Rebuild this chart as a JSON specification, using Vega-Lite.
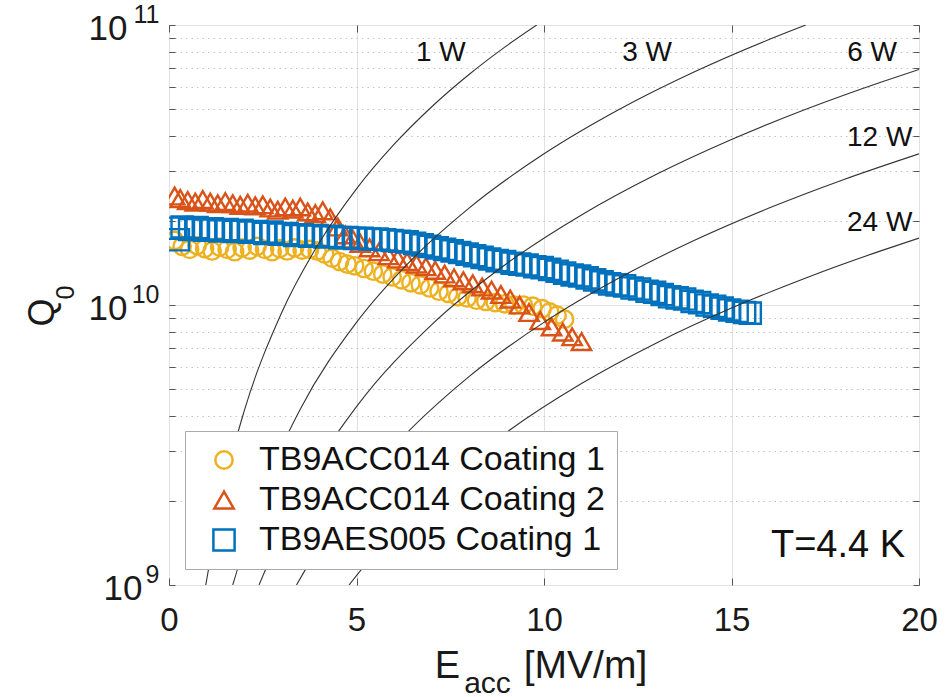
{
  "$schema": "https://vega.github.io/schema/vega-lite/v6.json",
  "width": 750,
  "height": 560,
  "autosize": {"type": "none"},
  "padding": {"left": 169, "top": 25, "right": 33, "bottom": 112},
  "background": "white",
  "config": {
    "font": "Liberation Sans",
    "view": {"stroke": "#a8a8a8", "strokeWidth": 1},
    "axis": {"labelFont": "Liberation Sans", "titleFont": "Liberation Sans", "labelColor": "#1a1a1a", "titleColor": "#1a1a1a", "titleFontWeight": "normal"}
  },
  "resolve": {"axis": {"x": "independent", "y": "independent"}},
  "layer": [
    {
      "data": {"values": [
        {"s": "TB9ACC014 Coating 1", "E": 0.15, "Q": 1.70e10},
        {"s": "TB9ACC014 Coating 1", "E": 0.35, "Q": 1.62e10},
        {"s": "TB9ACC014 Coating 1", "E": 0.55, "Q": 1.58e10},
        {"s": "TB9ACC014 Coating 1", "E": 0.75, "Q": 1.63e10},
        {"s": "TB9ACC014 Coating 1", "E": 0.95, "Q": 1.59e10},
        {"s": "TB9ACC014 Coating 1", "E": 1.15, "Q": 1.56e10},
        {"s": "TB9ACC014 Coating 1", "E": 1.35, "Q": 1.61e10},
        {"s": "TB9ACC014 Coating 1", "E": 1.55, "Q": 1.58e10},
        {"s": "TB9ACC014 Coating 1", "E": 1.75, "Q": 1.55e10},
        {"s": "TB9ACC014 Coating 1", "E": 1.95, "Q": 1.60e10},
        {"s": "TB9ACC014 Coating 1", "E": 2.15, "Q": 1.57e10},
        {"s": "TB9ACC014 Coating 1", "E": 2.35, "Q": 1.62e10},
        {"s": "TB9ACC014 Coating 1", "E": 2.55, "Q": 1.58e10},
        {"s": "TB9ACC014 Coating 1", "E": 2.75, "Q": 1.55e10},
        {"s": "TB9ACC014 Coating 1", "E": 2.95, "Q": 1.59e10},
        {"s": "TB9ACC014 Coating 1", "E": 3.15, "Q": 1.56e10},
        {"s": "TB9ACC014 Coating 1", "E": 3.35, "Q": 1.60e10},
        {"s": "TB9ACC014 Coating 1", "E": 3.55, "Q": 1.57e10},
        {"s": "TB9ACC014 Coating 1", "E": 3.75, "Q": 1.58e10},
        {"s": "TB9ACC014 Coating 1", "E": 3.95, "Q": 1.56e10},
        {"s": "TB9ACC014 Coating 1", "E": 4.15, "Q": 1.52e10},
        {"s": "TB9ACC014 Coating 1", "E": 4.35, "Q": 1.47e10},
        {"s": "TB9ACC014 Coating 1", "E": 4.55, "Q": 1.43e10},
        {"s": "TB9ACC014 Coating 1", "E": 4.75, "Q": 1.40e10},
        {"s": "TB9ACC014 Coating 1", "E": 4.95, "Q": 1.38e10},
        {"s": "TB9ACC014 Coating 1", "E": 5.2, "Q": 1.35e10},
        {"s": "TB9ACC014 Coating 1", "E": 5.45, "Q": 1.32e10},
        {"s": "TB9ACC014 Coating 1", "E": 5.7, "Q": 1.29e10},
        {"s": "TB9ACC014 Coating 1", "E": 5.95, "Q": 1.26e10},
        {"s": "TB9ACC014 Coating 1", "E": 6.2, "Q": 1.23e10},
        {"s": "TB9ACC014 Coating 1", "E": 6.45, "Q": 1.20e10},
        {"s": "TB9ACC014 Coating 1", "E": 6.7, "Q": 1.18e10},
        {"s": "TB9ACC014 Coating 1", "E": 6.95, "Q": 1.15e10},
        {"s": "TB9ACC014 Coating 1", "E": 7.2, "Q": 1.12e10},
        {"s": "TB9ACC014 Coating 1", "E": 7.45, "Q": 1.10e10},
        {"s": "TB9ACC014 Coating 1", "E": 7.7, "Q": 1.07e10},
        {"s": "TB9ACC014 Coating 1", "E": 7.95, "Q": 1.06e10},
        {"s": "TB9ACC014 Coating 1", "E": 8.2, "Q": 1.04e10},
        {"s": "TB9ACC014 Coating 1", "E": 8.45, "Q": 1.03e10},
        {"s": "TB9ACC014 Coating 1", "E": 8.7, "Q": 1.02e10},
        {"s": "TB9ACC014 Coating 1", "E": 8.95, "Q": 1.01e10},
        {"s": "TB9ACC014 Coating 1", "E": 9.2, "Q": 1.00e10},
        {"s": "TB9ACC014 Coating 1", "E": 9.45, "Q": 1.00e10},
        {"s": "TB9ACC014 Coating 1", "E": 9.7, "Q": 9.9e9},
        {"s": "TB9ACC014 Coating 1", "E": 9.95, "Q": 9.7e9},
        {"s": "TB9ACC014 Coating 1", "E": 10.15, "Q": 9.45e9},
        {"s": "TB9ACC014 Coating 1", "E": 10.35, "Q": 9.2e9},
        {"s": "TB9ACC014 Coating 1", "E": 10.55, "Q": 8.9e9},
        {"s": "TB9ACC014 Coating 2", "E": 0.15, "Q": 2.45e10},
        {"s": "TB9ACC014 Coating 2", "E": 0.3, "Q": 2.40e10},
        {"s": "TB9ACC014 Coating 2", "E": 0.5, "Q": 2.36e10},
        {"s": "TB9ACC014 Coating 2", "E": 0.7, "Q": 2.33e10},
        {"s": "TB9ACC014 Coating 2", "E": 0.9, "Q": 2.38e10},
        {"s": "TB9ACC014 Coating 2", "E": 1.1, "Q": 2.33e10},
        {"s": "TB9ACC014 Coating 2", "E": 1.3, "Q": 2.30e10},
        {"s": "TB9ACC014 Coating 2", "E": 1.5, "Q": 2.34e10},
        {"s": "TB9ACC014 Coating 2", "E": 1.7, "Q": 2.30e10},
        {"s": "TB9ACC014 Coating 2", "E": 1.9, "Q": 2.27e10},
        {"s": "TB9ACC014 Coating 2", "E": 2.1, "Q": 2.31e10},
        {"s": "TB9ACC014 Coating 2", "E": 2.3, "Q": 2.26e10},
        {"s": "TB9ACC014 Coating 2", "E": 2.5, "Q": 2.28e10},
        {"s": "TB9ACC014 Coating 2", "E": 2.7, "Q": 2.22e10},
        {"s": "TB9ACC014 Coating 2", "E": 2.9, "Q": 2.18e10},
        {"s": "TB9ACC014 Coating 2", "E": 3.1, "Q": 2.24e10},
        {"s": "TB9ACC014 Coating 2", "E": 3.3, "Q": 2.20e10},
        {"s": "TB9ACC014 Coating 2", "E": 3.5, "Q": 2.24e10},
        {"s": "TB9ACC014 Coating 2", "E": 3.7, "Q": 2.15e10},
        {"s": "TB9ACC014 Coating 2", "E": 3.9, "Q": 2.12e10},
        {"s": "TB9ACC014 Coating 2", "E": 4.1, "Q": 2.17e10},
        {"s": "TB9ACC014 Coating 2", "E": 4.3, "Q": 2.05e10},
        {"s": "TB9ACC014 Coating 2", "E": 4.5, "Q": 1.90e10},
        {"s": "TB9ACC014 Coating 2", "E": 4.7, "Q": 1.78e10},
        {"s": "TB9ACC014 Coating 2", "E": 4.9, "Q": 1.72e10},
        {"s": "TB9ACC014 Coating 2", "E": 5.1, "Q": 1.66e10},
        {"s": "TB9ACC014 Coating 2", "E": 5.35, "Q": 1.60e10},
        {"s": "TB9ACC014 Coating 2", "E": 5.6, "Q": 1.55e10},
        {"s": "TB9ACC014 Coating 2", "E": 5.85, "Q": 1.50e10},
        {"s": "TB9ACC014 Coating 2", "E": 6.1, "Q": 1.46e10},
        {"s": "TB9ACC014 Coating 2", "E": 6.35, "Q": 1.43e10},
        {"s": "TB9ACC014 Coating 2", "E": 6.6, "Q": 1.40e10},
        {"s": "TB9ACC014 Coating 2", "E": 6.85, "Q": 1.37e10},
        {"s": "TB9ACC014 Coating 2", "E": 7.1, "Q": 1.33e10},
        {"s": "TB9ACC014 Coating 2", "E": 7.35, "Q": 1.29e10},
        {"s": "TB9ACC014 Coating 2", "E": 7.6, "Q": 1.25e10},
        {"s": "TB9ACC014 Coating 2", "E": 7.85, "Q": 1.22e10},
        {"s": "TB9ACC014 Coating 2", "E": 8.1, "Q": 1.19e10},
        {"s": "TB9ACC014 Coating 2", "E": 8.35, "Q": 1.16e10},
        {"s": "TB9ACC014 Coating 2", "E": 8.6, "Q": 1.13e10},
        {"s": "TB9ACC014 Coating 2", "E": 8.85, "Q": 1.09e10},
        {"s": "TB9ACC014 Coating 2", "E": 9.1, "Q": 1.05e10},
        {"s": "TB9ACC014 Coating 2", "E": 9.35, "Q": 1.00e10},
        {"s": "TB9ACC014 Coating 2", "E": 9.6, "Q": 9.4e9},
        {"s": "TB9ACC014 Coating 2", "E": 9.9, "Q": 8.8e9},
        {"s": "TB9ACC014 Coating 2", "E": 10.2, "Q": 8.35e9},
        {"s": "TB9ACC014 Coating 2", "E": 10.5, "Q": 8.0e9},
        {"s": "TB9ACC014 Coating 2", "E": 10.75, "Q": 7.7e9},
        {"s": "TB9ACC014 Coating 2", "E": 11.0, "Q": 7.4e9},
        {"s": "TB9AES005 Coating 1", "E": 0.15, "Q": 1.88e10},
        {"s": "TB9AES005 Coating 1", "E": 0.25, "Q": 1.71e10},
        {"s": "TB9AES005 Coating 1", "E": 0.35, "Q": 1.90e10},
        {"s": "TB9AES005 Coating 1", "E": 0.55, "Q": 1.86e10},
        {"s": "TB9AES005 Coating 1", "E": 0.75, "Q": 1.89e10},
        {"s": "TB9AES005 Coating 1", "E": 0.95, "Q": 1.85e10},
        {"s": "TB9AES005 Coating 1", "E": 1.15, "Q": 1.87e10},
        {"s": "TB9AES005 Coating 1", "E": 1.35, "Q": 1.84e10},
        {"s": "TB9AES005 Coating 1", "E": 1.55, "Q": 1.86e10},
        {"s": "TB9AES005 Coating 1", "E": 1.75, "Q": 1.83e10},
        {"s": "TB9AES005 Coating 1", "E": 1.95, "Q": 1.85e10},
        {"s": "TB9AES005 Coating 1", "E": 2.15, "Q": 1.82e10},
        {"s": "TB9AES005 Coating 1", "E": 2.35, "Q": 1.83e10},
        {"s": "TB9AES005 Coating 1", "E": 2.55, "Q": 1.80e10},
        {"s": "TB9AES005 Coating 1", "E": 2.75, "Q": 1.82e10},
        {"s": "TB9AES005 Coating 1", "E": 2.95, "Q": 1.79e10},
        {"s": "TB9AES005 Coating 1", "E": 3.15, "Q": 1.80e10},
        {"s": "TB9AES005 Coating 1", "E": 3.35, "Q": 1.77e10},
        {"s": "TB9AES005 Coating 1", "E": 3.55, "Q": 1.78e10},
        {"s": "TB9AES005 Coating 1", "E": 3.75, "Q": 1.76e10},
        {"s": "TB9AES005 Coating 1", "E": 3.95, "Q": 1.77e10},
        {"s": "TB9AES005 Coating 1", "E": 4.15, "Q": 1.75e10},
        {"s": "TB9AES005 Coating 1", "E": 4.35, "Q": 1.76e10},
        {"s": "TB9AES005 Coating 1", "E": 4.55, "Q": 1.74e10},
        {"s": "TB9AES005 Coating 1", "E": 4.75, "Q": 1.74e10},
        {"s": "TB9AES005 Coating 1", "E": 4.95, "Q": 1.73e10},
        {"s": "TB9AES005 Coating 1", "E": 5.15, "Q": 1.73e10},
        {"s": "TB9AES005 Coating 1", "E": 5.35, "Q": 1.72e10},
        {"s": "TB9AES005 Coating 1", "E": 5.55, "Q": 1.72e10},
        {"s": "TB9AES005 Coating 1", "E": 5.75, "Q": 1.71e10},
        {"s": "TB9AES005 Coating 1", "E": 5.95, "Q": 1.70e10},
        {"s": "TB9AES005 Coating 1", "E": 6.15, "Q": 1.69e10},
        {"s": "TB9AES005 Coating 1", "E": 6.35, "Q": 1.68e10},
        {"s": "TB9AES005 Coating 1", "E": 6.55, "Q": 1.66e10},
        {"s": "TB9AES005 Coating 1", "E": 6.75, "Q": 1.64e10},
        {"s": "TB9AES005 Coating 1", "E": 6.95, "Q": 1.62e10},
        {"s": "TB9AES005 Coating 1", "E": 7.15, "Q": 1.60e10},
        {"s": "TB9AES005 Coating 1", "E": 7.35, "Q": 1.58e10},
        {"s": "TB9AES005 Coating 1", "E": 7.55, "Q": 1.56e10},
        {"s": "TB9AES005 Coating 1", "E": 7.75, "Q": 1.54e10},
        {"s": "TB9AES005 Coating 1", "E": 7.95, "Q": 1.52e10},
        {"s": "TB9AES005 Coating 1", "E": 8.15, "Q": 1.50e10},
        {"s": "TB9AES005 Coating 1", "E": 8.35, "Q": 1.48e10},
        {"s": "TB9AES005 Coating 1", "E": 8.55, "Q": 1.46e10},
        {"s": "TB9AES005 Coating 1", "E": 8.75, "Q": 1.44e10},
        {"s": "TB9AES005 Coating 1", "E": 8.95, "Q": 1.43e10},
        {"s": "TB9AES005 Coating 1", "E": 9.15, "Q": 1.41e10},
        {"s": "TB9AES005 Coating 1", "E": 9.35, "Q": 1.40e10},
        {"s": "TB9AES005 Coating 1", "E": 9.55, "Q": 1.39e10},
        {"s": "TB9AES005 Coating 1", "E": 9.75, "Q": 1.37e10},
        {"s": "TB9AES005 Coating 1", "E": 9.95, "Q": 1.36e10},
        {"s": "TB9AES005 Coating 1", "E": 10.15, "Q": 1.34e10},
        {"s": "TB9AES005 Coating 1", "E": 10.35, "Q": 1.32e10},
        {"s": "TB9AES005 Coating 1", "E": 10.55, "Q": 1.30e10},
        {"s": "TB9AES005 Coating 1", "E": 10.75, "Q": 1.28e10},
        {"s": "TB9AES005 Coating 1", "E": 10.95, "Q": 1.27e10},
        {"s": "TB9AES005 Coating 1", "E": 11.15, "Q": 1.25e10},
        {"s": "TB9AES005 Coating 1", "E": 11.35, "Q": 1.23e10},
        {"s": "TB9AES005 Coating 1", "E": 11.55, "Q": 1.21e10},
        {"s": "TB9AES005 Coating 1", "E": 11.75, "Q": 1.19e10},
        {"s": "TB9AES005 Coating 1", "E": 11.95, "Q": 1.18e10},
        {"s": "TB9AES005 Coating 1", "E": 12.15, "Q": 1.17e10},
        {"s": "TB9AES005 Coating 1", "E": 12.35, "Q": 1.15e10},
        {"s": "TB9AES005 Coating 1", "E": 12.55, "Q": 1.14e10},
        {"s": "TB9AES005 Coating 1", "E": 12.75, "Q": 1.12e10},
        {"s": "TB9AES005 Coating 1", "E": 12.95, "Q": 1.11e10},
        {"s": "TB9AES005 Coating 1", "E": 13.15, "Q": 1.09e10},
        {"s": "TB9AES005 Coating 1", "E": 13.35, "Q": 1.07e10},
        {"s": "TB9AES005 Coating 1", "E": 13.55, "Q": 1.06e10},
        {"s": "TB9AES005 Coating 1", "E": 13.75, "Q": 1.05e10},
        {"s": "TB9AES005 Coating 1", "E": 13.95, "Q": 1.03e10},
        {"s": "TB9AES005 Coating 1", "E": 14.15, "Q": 1.02e10},
        {"s": "TB9AES005 Coating 1", "E": 14.35, "Q": 1.00e10},
        {"s": "TB9AES005 Coating 1", "E": 14.55, "Q": 9.9e9},
        {"s": "TB9AES005 Coating 1", "E": 14.75, "Q": 9.75e9},
        {"s": "TB9AES005 Coating 1", "E": 14.95, "Q": 9.6e9},
        {"s": "TB9AES005 Coating 1", "E": 15.15, "Q": 9.5e9},
        {"s": "TB9AES005 Coating 1", "E": 15.35, "Q": 9.4e9},
        {"s": "TB9AES005 Coating 1", "E": 15.5, "Q": 9.35e9}
      ]},
      "mark": {"type": "point", "filled": false, "strokeWidth": 2.4, "opacity": 1, "clip": true},
      "encoding": {
        "x": {"field": "E", "type": "quantitative", "scale": {"domain": [0, 20], "nice": false, "zero": false},
          "axis": {"orient": "bottom", "values": [0, 5, 10, 15, 20], "labelFlush": false,
            "title": "[MV/m]", "titleFontSize": 39, "titleX": 416, "titleY": 92, "titleAlign": "center", "titleBaseline": "alphabetic",
            "labelFontSize": 33, "labelPadding": 26, "tickSize": -7, "tickColor": "#555", "domain": false,
            "grid": true, "gridColor": "#e2e2e2", "gridWidth": 1}},
        "y": {"field": "Q", "type": "quantitative", "scale": {"type": "log", "domain": [1e9, 1e11], "nice": false},
          "axis": {"orient": "left", "values": [1e9, 2e9, 3e9, 4e9, 5e9, 6e9, 7e9, 8e9, 9e9, 1e10, 2e10, 3e10, 4e10, 5e10, 6e10, 7e10, 8e10, 9e10, 1e11],
            "labelExpr": "datum.value == 1e9 || datum.value == 1e10 || datum.value == 1e11 ? '10' : ''",
            "labelOverlap": false, "labelFlush": false, "labelFontSize": 35, "labelBaseline": "middle", "labelOffset": 3,
            "labelPadding": {"condition": {"test": "datum.value == 1e9", "value": 33}, "value": 48},
            "title": "Q", "titleFontSize": 36, "titleX": -127, "titleY": 287, "titleAngle": 270, "titleAlign": "center", "titleBaseline": "middle",
            "tickSize": -6, "tickColor": "#555", "domain": false,
            "grid": true,
            "gridColor": {"condition": {"test": "datum.value == 1e9 || datum.value == 1e10 || datum.value == 1e11", "value": "#e2e2e2"}, "value": "#c4c4c4"},
            "gridDash": {"condition": {"test": "datum.value == 1e9 || datum.value == 1e10 || datum.value == 1e11", "value": []}, "value": [1.5, 4]}}},
        "color": {"field": "s", "type": "nominal",
          "scale": {"domain": ["TB9ACC014 Coating 1", "TB9ACC014 Coating 2", "TB9AES005 Coating 1"], "range": ["#EDB120", "#D95319", "#0072BD"]},
          "legend": {"title": null, "orient": "bottom-left", "offset": 16, "labelFontSize": 34, "labelLimit": 600, "labelColor": "#111", "labelFont": "Liberation Sans",
            "symbolSize": 330, "symbolStrokeWidth": 2.5, "symbolOffset": 10, "labelOffset": 18, "rowPadding": 6, "padding": 12,
            "fillColor": "white", "strokeColor": "#aaaaaa"}},
        "shape": {"field": "s", "type": "nominal",
          "scale": {"domain": ["TB9ACC014 Coating 1", "TB9ACC014 Coating 2", "TB9AES005 Coating 1"], "range": ["circle", "triangle-up", "square"]}},
        "size": {"field": "s", "type": "nominal", "legend": null,
          "scale": {"domain": ["TB9ACC014 Coating 1", "TB9ACC014 Coating 2", "TB9AES005 Coating 1"], "range": [300, 450, 290]}}
      }
    },
    {
      "data": {"values": [
        {"c": "1 W", "E": 0.98, "Q": 1.0e9},
        {"c": "1 W", "E": 1.5, "Q": 2.34e9},
        {"c": "1 W", "E": 2.0, "Q": 4.16e9},
        {"c": "1 W", "E": 3.0, "Q": 9.36e9},
        {"c": "1 W", "E": 4.0, "Q": 1.664e10},
        {"c": "1 W", "E": 5.0, "Q": 2.6e10},
        {"c": "1 W", "E": 6.0, "Q": 3.744e10},
        {"c": "1 W", "E": 7.0, "Q": 5.096e10},
        {"c": "1 W", "E": 8.0, "Q": 6.656e10},
        {"c": "1 W", "E": 9.0, "Q": 8.424e10},
        {"c": "1 W", "E": 9.806, "Q": 1.0e11},
        {"c": "3 W", "E": 1.70, "Q": 1.0e9},
        {"c": "3 W", "E": 2.5, "Q": 2.167e9},
        {"c": "3 W", "E": 3.5, "Q": 4.247e9},
        {"c": "3 W", "E": 5.0, "Q": 8.667e9},
        {"c": "3 W", "E": 6.5, "Q": 1.465e10},
        {"c": "3 W", "E": 8.0, "Q": 2.219e10},
        {"c": "3 W", "E": 10.0, "Q": 3.467e10},
        {"c": "3 W", "E": 12.0, "Q": 4.992e10},
        {"c": "3 W", "E": 14.0, "Q": 6.795e10},
        {"c": "3 W", "E": 16.0, "Q": 8.875e10},
        {"c": "3 W", "E": 16.98, "Q": 1.0e11},
        {"c": "6 W", "E": 2.40, "Q": 1.0e9},
        {"c": "6 W", "E": 3.5, "Q": 2.123e9},
        {"c": "6 W", "E": 5.0, "Q": 4.333e9},
        {"c": "6 W", "E": 7.0, "Q": 8.493e9},
        {"c": "6 W", "E": 9.0, "Q": 1.404e10},
        {"c": "6 W", "E": 11.0, "Q": 2.097e10},
        {"c": "6 W", "E": 13.0, "Q": 2.929e10},
        {"c": "6 W", "E": 15.0, "Q": 3.9e10},
        {"c": "6 W", "E": 17.0, "Q": 5.009e10},
        {"c": "6 W", "E": 19.0, "Q": 6.257e10},
        {"c": "6 W", "E": 20.0, "Q": 6.933e10},
        {"c": "12 W", "E": 3.40, "Q": 1.0e9},
        {"c": "12 W", "E": 4.5, "Q": 1.755e9},
        {"c": "12 W", "E": 6.0, "Q": 3.12e9},
        {"c": "12 W", "E": 8.0, "Q": 5.547e9},
        {"c": "12 W", "E": 10.0, "Q": 8.667e9},
        {"c": "12 W", "E": 12.0, "Q": 1.248e10},
        {"c": "12 W", "E": 14.0, "Q": 1.699e10},
        {"c": "12 W", "E": 16.0, "Q": 2.219e10},
        {"c": "12 W", "E": 18.0, "Q": 2.808e10},
        {"c": "12 W", "E": 20.0, "Q": 3.467e10},
        {"c": "24 W", "E": 4.80, "Q": 1.0e9},
        {"c": "24 W", "E": 6.0, "Q": 1.56e9},
        {"c": "24 W", "E": 7.5, "Q": 2.437e9},
        {"c": "24 W", "E": 9.0, "Q": 3.51e9},
        {"c": "24 W", "E": 11.0, "Q": 5.243e9},
        {"c": "24 W", "E": 13.0, "Q": 7.323e9},
        {"c": "24 W", "E": 15.0, "Q": 9.75e9},
        {"c": "24 W", "E": 17.0, "Q": 1.252e10},
        {"c": "24 W", "E": 19.0, "Q": 1.564e10},
        {"c": "24 W", "E": 20.0, "Q": 1.733e10}
      ]},
      "mark": {"type": "line", "color": "#333333", "strokeWidth": 1.1, "interpolate": "monotone", "clip": true},
      "encoding": {
        "x": {"field": "E", "type": "quantitative", "scale": {"domain": [0, 20], "nice": false, "zero": false},
          "axis": {"orient": "bottom", "labels": false, "ticks": false, "domain": false, "grid": false,
            "title": "E", "titleFontSize": 38, "titleX": 278, "titleY": 92, "titleAlign": "center", "titleBaseline": "alphabetic"}},
        "y": {"field": "Q", "type": "quantitative", "scale": {"type": "log", "domain": [1e9, 1e11], "nice": false},
          "axis": {"orient": "left", "values": [1e9, 1e10, 1e11], "ticks": false, "domain": false, "grid": false,
            "labelExpr": "datum.value == 1e9 ? '9' : datum.value == 1e10 ? '10' : '11'",
            "labelOverlap": false, "labelFlush": false, "labelFontSize": 25, "labelBaseline": "middle", "labelOffset": -11, "labelPadding": 10,
            "title": "0", "titleFontSize": 25, "titleX": -104, "titleY": 267, "titleAngle": 270, "titleAlign": "center", "titleBaseline": "middle"}},
        "detail": {"field": "c", "type": "nominal"}
      }
    },
    {
      "data": {"values": [
        {"label": "1 W", "E": 7.25, "Q": 7.94e10},
        {"label": "3 W", "E": 12.75, "Q": 7.94e10},
        {"label": "6 W", "E": 18.75, "Q": 7.94e10},
        {"label": "12 W", "E": 18.95, "Q": 3.95e10},
        {"label": "24 W", "E": 18.95, "Q": 1.96e10}
      ]},
      "mark": {"type": "text", "fontSize": 28, "font": "Liberation Sans", "color": "#111", "align": "center", "baseline": "middle"},
      "encoding": {
        "x": {"field": "E", "type": "quantitative", "scale": {"domain": [0, 20], "nice": false, "zero": false},
          "axis": {"orient": "top", "values": [0, 5, 10, 15, 20], "labels": false, "title": null, "grid": false, "domain": false, "tickSize": -7, "tickColor": "#555"}},
        "y": {"field": "Q", "type": "quantitative", "scale": {"type": "log", "domain": [1e9, 1e11], "nice": false},
          "axis": {"orient": "right", "values": [1e9, 2e9, 3e9, 4e9, 5e9, 6e9, 7e9, 8e9, 9e9, 1e10, 2e10, 3e10, 4e10, 5e10, 6e10, 7e10, 8e10, 9e10, 1e11], "labels": false, "title": null, "grid": false, "domain": false, "tickSize": -6, "tickColor": "#555"}},
        "text": {"field": "label", "type": "nominal"}
      }
    },
    {
      "data": {"values": [{"label": "T=4.4 K", "E": 17.84, "Q": 1.38e9}]},
      "mark": {"type": "text", "fontSize": 38, "font": "Liberation Sans", "color": "#111", "align": "center", "baseline": "middle"},
      "encoding": {
        "x": {"field": "E", "type": "quantitative", "scale": {"domain": [0, 20], "nice": false, "zero": false},
          "axis": {"orient": "bottom", "labels": false, "ticks": false, "domain": false, "grid": false,
            "title": "acc", "titleFontSize": 30, "titleX": 318, "titleY": 107, "titleAlign": "center", "titleBaseline": "alphabetic"}},
        "y": {"field": "Q", "type": "quantitative", "scale": {"type": "log", "domain": [1e9, 1e11], "nice": false}, "axis": null},
        "text": {"field": "label", "type": "nominal"}
      }
    }
  ]
}
